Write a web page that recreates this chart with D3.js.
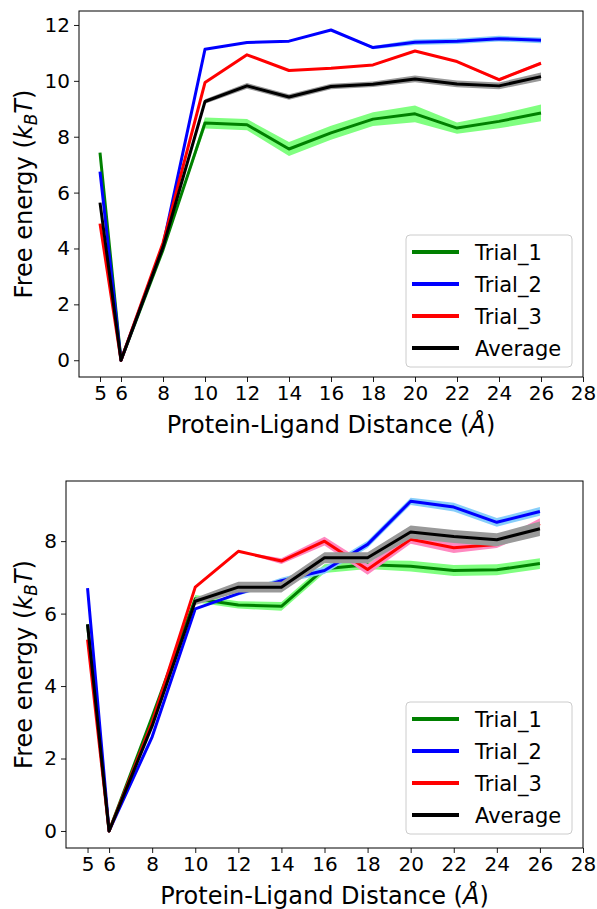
<!DOCTYPE html>
<html><head><meta charset="utf-8">
<script src="https://cdn.jsdelivr.net/npm/d3@7"></script>
<style>body{margin:0;background:#fff;} svg{display:block;} text{font-family:"DejaVu Sans",sans-serif;fill:#000;}</style>
</head><body>
<script>
const distances = [5,6,8,10,12,14,16,18,20,22,24,26];
const xTicks = [5,6,8,10,12,14,16,18,20,22,24,26,28];
const seriesNames = ["Trial_1","Trial_2","Trial_3","Average"];

// Top panel
const topTrial1 = [7.43,0,3.95,8.49,8.43,7.56,8.14,8.63,8.82,8.31,8.55,8.85];
const topTrial2 = [6.75,0,4.1,11.13,11.37,11.42,11.82,11.19,11.38,11.42,11.51,11.45];
const topTrial3 = [4.89,0,4.2,9.94,10.93,10.37,10.45,10.57,11.07,10.69,10.04,10.63];
const topAverage = [5.64,0,4.05,9.26,9.82,9.42,9.8,9.88,10.07,9.89,9.82,10.15];
const topErr1 = [0,0,0,0.2,0.2,0.25,0.25,0.25,0.3,0.2,0.25,0.3];
const topErr2 = [0,0,0,0,0,0,0,0.06,0.1,0.1,0.1,0.1];
const topErr3 = [0,0,0,0,0,0,0,0.03,0.03,0.03,0.05,0.05];
const topErrAvg = [0,0,0,0.08,0.1,0.1,0.1,0.1,0.12,0.12,0.12,0.15];
const topYTicks = [0,2,4,6,8,10,12];

// Bottom panel
const botTrial1 = [5.7,0,3.15,6.41,6.24,6.2,7.24,7.35,7.31,7.19,7.21,7.38];
const botTrial2 = [6.70,0,2.6,6.13,6.55,6.91,7.19,7.91,9.10,8.94,8.52,8.82];
const botTrial3 = [5.28,0,3.0,6.73,7.72,7.45,8.0,7.22,8.05,7.82,7.91,8.48];
const botAverage = [5.70,0,2.9,6.34,6.73,6.73,7.54,7.54,8.25,8.13,8.04,8.34];
const botErr1 = [0,0,0,0.1,0.1,0.12,0.12,0.12,0.15,0.15,0.15,0.15];
const botErr2 = [0,0,0,0,0.05,0.08,0.1,0.1,0.1,0.12,0.12,0.12];
const botErr3 = [0,0,0,0,0,0.08,0.12,0.15,0.12,0.15,0.1,0.15];
const botErrAvg = [0,0,0,0.1,0.15,0.15,0.15,0.15,0.18,0.18,0.18,0.2];
const botYTicks = [0,2,4,6,8];

const lineColors = ["#008000","#0000ff","#ff0000","#000000"];
const bandColors = ["#80ff80","#87cefa","#ff88c0","#999999"];

const W = 597, H = 909;
const svg = d3.select("body").append("svg").attr("width",W).attr("height",H);

function panel(cfg){
  const {left,right,top,bottom,yDomain,yTicks,series,errs} = cfg;
  const x = d3.scaleLinear().domain([4,28]).range([left,right]);
  const y = d3.scaleLinear().domain(yDomain).range([bottom,top]);
  const g = svg.append("g");
  const clipId = "clip"+top;
  g.append("clipPath").attr("id",clipId).append("rect")
    .attr("x",left).attr("y",top).attr("width",right-left).attr("height",bottom-top);
  const plot = g.append("g").attr("clip-path",`url(#${clipId})`);
  series.forEach((vals,i)=>{
    const e = errs[i];
    const pts = distances.map((d,j)=>({d,v:vals[j],e:e[j]}));
    const area = d3.area().x(p=>x(p.d)).y0(p=>y(p.v-p.e)).y1(p=>y(p.v+p.e));
    plot.append("path").attr("d",area(pts)).attr("fill",bandColors[i]).attr("stroke","none");
    const line = d3.line().x(p=>x(p.d)).y(p=>y(p.v));
    plot.append("path").attr("d",line(pts)).attr("fill","none")
      .attr("stroke",lineColors[i]).attr("stroke-width",3)
      .attr("stroke-linejoin","round").attr("stroke-linecap","butt");
  });
  // axes
  const xa = g.append("g").attr("transform",`translate(0,${bottom})`)
    .call(d3.axisBottom(x).tickValues(xTicks).tickSize(5).tickPadding(4).tickFormat(d3.format("d")));
  const ya = g.append("g").attr("transform",`translate(${left},0)`)
    .call(d3.axisLeft(y).tickValues(yTicks).tickSize(5).tickPadding(4).tickFormat(d3.format("d")));
  [xa,ya].forEach(a=>{
    a.select(".domain").remove();
    a.selectAll("line").attr("stroke","#000").attr("stroke-width",0.9);
    a.selectAll("text").style("font-size","20px").style("font-family","DejaVu Sans");
  });
  g.append("rect").attr("x",left).attr("y",top).attr("width",right-left).attr("height",bottom-top)
    .attr("fill","none").attr("stroke","#000").attr("stroke-width",1);
  // x label
  const xl = g.append("text").attr("x",(left+right)/2).attr("y",bottom+56)
    .attr("text-anchor","middle").style("font-size","24px");
  xl.append("tspan").text("Protein-Ligand Distance (");
  xl.append("tspan").style("font-style","italic").text("Å");
  xl.append("tspan").text(")");
  // y label
  const cy = (top+bottom)/2;
  const yl = g.append("text").attr("transform",`translate(32,${cy}) rotate(-90)`)
    .attr("text-anchor","middle").style("font-size","24px");
  yl.append("tspan").text("Free energy (");
  yl.append("tspan").style("font-style","italic").text("k");
  yl.append("tspan").style("font-style","italic").style("font-size","17px").attr("dy",5).text("B");
  yl.append("tspan").style("font-style","italic").attr("dy",-5).text("T");
  yl.append("tspan").text(")");
  // legend
  const lg = g.append("g");
  const lx = cfg.legX, ly = cfg.legY;
  lg.append("rect").attr("x",lx).attr("y",ly).attr("width",166).attr("height",132)
    .attr("rx",4).attr("fill","#fff").attr("fill-opacity",0.8).attr("stroke","#cccccc").attr("stroke-width",1);
  seriesNames.forEach((n,i)=>{
    const ry = ly+17+i*32;
    lg.append("line").attr("x1",lx+6).attr("x2",lx+53).attr("y1",ry).attr("y2",ry)
      .attr("stroke",lineColors[i]).attr("stroke-width",4);
    lg.append("text").attr("x",lx+69).attr("y",ry+7.5).style("font-size","21px").text(n);
  });
}

panel({left:79,right:583,top:11,bottom:377,yDomain:[-0.6,12.5],yTicks:topYTicks,
  series:[topTrial1,topTrial2,topTrial3,topAverage],errs:[topErr1,topErr2,topErr3,topErrAvg],
  legX:406,legY:235});
panel({left:66,right:583,top:481,bottom:848,yDomain:[-0.47,9.66],yTicks:botYTicks,
  series:[botTrial1,botTrial2,botTrial3,botAverage],errs:[botErr1,botErr2,botErr3,botErrAvg],
  legX:406,legY:702});
</script>
</body></html>
